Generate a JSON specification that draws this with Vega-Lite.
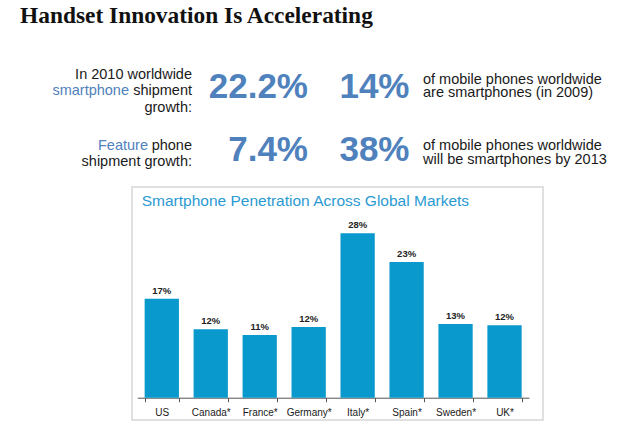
{
  "$schema": "https://vega.github.io/schema/vega-lite/v6.json",
  "autosize": "none",
  "width": 411,
  "height": 233,
  "padding": {"left": 132, "top": 187, "right": 77, "bottom": 16},
  "background": "white",
  "config": {
    "font": "Liberation Sans",
    "view": {"stroke": "#d6d6d6", "strokeWidth": 1.5}
  },
  "datasets": {
    "markets": [
      {"country": "US", "penetration": 16.9, "label": "17%"},
      {"country": "Canada*", "penetration": 11.7, "label": "12%"},
      {"country": "France*", "penetration": 10.7, "label": "11%"},
      {"country": "Germany*", "penetration": 12.1, "label": "12%"},
      {"country": "Italy*", "penetration": 28.1, "label": "28%"},
      {"country": "Spain*", "penetration": 23.2, "label": "23%"},
      {"country": "Sweden*", "penetration": 12.6, "label": "13%"},
      {"country": "UK*", "penetration": 12.4, "label": "12%"}
    ],
    "headline": [
      {"part": "title", "row": "main", "col": "main", "text": "Handset Innovation Is Accelerating"},
      {"part": "charttitle", "row": "chart", "col": "chart", "text": "Smartphone Penetration Across Global Markets"},
      {"part": "label", "row": "r1", "col": "label", "text": "In 2010 worldwide\nshipment\ngrowth:"},
      {"part": "label", "row": "r2", "col": "label", "text": "phone\nshipment growth:"},
      {"part": "accent1", "row": "r1", "col": "label", "text": "smartphone"},
      {"part": "accent2", "row": "r2", "col": "label", "text": "Feature"},
      {"part": "number", "row": "r1", "col": "num1", "text": "22.2%"},
      {"part": "number", "row": "r1", "col": "num2", "text": "14%"},
      {"part": "number", "row": "r2", "col": "num1", "text": "7.4%"},
      {"part": "number", "row": "r2", "col": "num2", "text": "38%"},
      {"part": "desc", "row": "r1", "col": "desc", "text": "of mobile phones worldwide\nare smartphones (in 2009)"},
      {"part": "desc", "row": "r2", "col": "desc", "text": "of mobile phones worldwide\nwill be smartphones by 2013"}
    ]
  },
  "layer": [
    {
      "data": {"name": "markets"},
      "mark": {"type": "bar", "color": "#0a99cc"},
      "encoding": {
        "x": {
          "field": "country", "type": "nominal", "sort": null,
          "scale": {"range": [5.3, 397], "paddingInner": 0.3, "paddingOuter": 0.15},
          "axis": {
            "title": null, "labelAngle": 0, "labelFont": "Liberation Sans", "labelFontSize": 10,
            "labelColor": "#1a1a1a", "domainColor": "#555555", "tickColor": "#555555",
            "tickSize": 4, "tickBand": "extent", "labelPadding": 6, "offset": -22.3, "grid": false
          }
        },
        "y": {
          "field": "penetration", "type": "quantitative",
          "scale": {"domain": [-3.81, 36.02], "nice": false},
          "axis": null
        }
      }
    },
    {
      "data": {"name": "markets"},
      "mark": {"type": "text", "font": "Liberation Sans", "fontSize": 9.5, "fontWeight": "bold", "color": "#222222", "baseline": "bottom", "dy": -3},
      "encoding": {
        "x": {
          "field": "country", "type": "nominal", "sort": null,
          "scale": {"range": [5.3, 397], "paddingInner": 0.3, "paddingOuter": 0.15},
          "axis": null
        },
        "y": {
          "field": "penetration", "type": "quantitative",
          "scale": {"domain": [-3.81, 36.02], "nice": false},
          "axis": null
        },
        "text": {"field": "label"}
      }
    },
    {
      "data": {"name": "headline"},
      "transform": [{"filter": "datum.part === 'charttitle'"}],
      "mark": {"type": "text", "font": "Liberation Sans", "fontSize": 15.5, "color": "#2b9ad3", "align": "left", "baseline": "alphabetic"},
      "encoding": {
        "x": {"field": "col", "type": "nominal", "scale": {"type": "point", "domain": ["chart"], "range": [9.7, 9.7], "padding": 0}, "axis": null},
        "y": {"field": "row", "type": "nominal", "scale": {"type": "point", "domain": ["chart"], "range": [19, 19], "padding": 0}, "axis": null},
        "text": {"field": "text"}
      }
    },
    {
      "data": {"name": "headline"},
      "transform": [{"filter": "datum.part === 'title'"}],
      "mark": {"type": "text", "font": "Liberation Serif", "fontSize": 23.4, "fontWeight": "bold", "color": "#111111", "align": "left", "baseline": "alphabetic"},
      "encoding": {
        "x": {"field": "col", "type": "nominal", "scale": {"type": "point", "domain": ["main"], "range": [-112, -112], "padding": 0}, "axis": null},
        "y": {"field": "row", "type": "nominal", "scale": {"type": "point", "domain": ["main"], "range": [-163.7, -163.7], "padding": 0}, "axis": null},
        "text": {"field": "text"}
      }
    },
    {
      "data": {"name": "headline"},
      "transform": [{"filter": "datum.part === 'label'"}],
      "mark": {"type": "text", "font": "Liberation Sans", "fontSize": 14.5, "color": "#1a1a1a", "align": "right", "baseline": "middle", "lineBreak": "\n", "lineHeight": 16.5},
      "encoding": {
        "x": {"field": "col", "type": "nominal", "scale": {"type": "point", "domain": ["label"], "range": [60, 60], "padding": 0}, "axis": null},
        "y": {"field": "row", "type": "nominal", "scale": {"type": "point", "domain": ["r1", "r2"], "range": [-112.5, -41.5], "padding": 0}, "axis": null},
        "text": {"field": "text"}
      }
    },
    {
      "data": {"name": "headline"},
      "transform": [{"filter": "datum.part === 'accent1'"}],
      "mark": {"type": "text", "font": "Liberation Sans", "fontSize": 14.5, "color": "#4f81bd", "align": "right", "baseline": "middle", "dy": 16.5, "dx": -63},
      "encoding": {
        "x": {"field": "col", "type": "nominal", "scale": {"type": "point", "domain": ["label"], "range": [60, 60], "padding": 0}, "axis": null},
        "y": {"field": "row", "type": "nominal", "scale": {"type": "point", "domain": ["r1", "r2"], "range": [-112.5, -41.5], "padding": 0}, "axis": null},
        "text": {"field": "text"}
      }
    },
    {
      "data": {"name": "headline"},
      "transform": [{"filter": "datum.part === 'accent2'"}],
      "mark": {"type": "text", "font": "Liberation Sans", "fontSize": 14.5, "color": "#4f81bd", "align": "right", "baseline": "middle", "dx": -44},
      "encoding": {
        "x": {"field": "col", "type": "nominal", "scale": {"type": "point", "domain": ["label"], "range": [60, 60], "padding": 0}, "axis": null},
        "y": {"field": "row", "type": "nominal", "scale": {"type": "point", "domain": ["r1", "r2"], "range": [-112.5, -41.5], "padding": 0}, "axis": null},
        "text": {"field": "text"}
      }
    },
    {
      "data": {"name": "headline"},
      "transform": [{"filter": "datum.part === 'number'"}],
      "mark": {"type": "text", "font": "Liberation Sans", "fontSize": 35, "fontWeight": "bold", "color": "#4f81bd", "align": "right", "baseline": "middle"},
      "encoding": {
        "x": {"field": "col", "type": "nominal", "scale": {"type": "point", "domain": ["num1", "num2"], "range": [176, 277.5], "padding": 0}, "axis": null},
        "y": {"field": "row", "type": "nominal", "scale": {"type": "point", "domain": ["r1", "r2"], "range": [-100.5, -37], "padding": 0}, "axis": null},
        "text": {"field": "text"}
      }
    },
    {
      "data": {"name": "headline"},
      "transform": [{"filter": "datum.part === 'desc'"}],
      "mark": {"type": "text", "font": "Liberation Sans", "fontSize": 14.5, "color": "#1a1a1a", "align": "left", "baseline": "middle", "lineBreak": "\n", "lineHeight": 13.5},
      "encoding": {
        "x": {"field": "col", "type": "nominal", "scale": {"type": "point", "domain": ["desc"], "range": [291, 291], "padding": 0}, "axis": null},
        "y": {"field": "row", "type": "nominal", "scale": {"type": "point", "domain": ["r1", "r2"], "range": [-107.3, -40.8], "padding": 0}, "axis": null},
        "text": {"field": "text"}
      }
    }
  ],
  "resolve": {"scale": {"x": "independent", "y": "independent"}}
}
